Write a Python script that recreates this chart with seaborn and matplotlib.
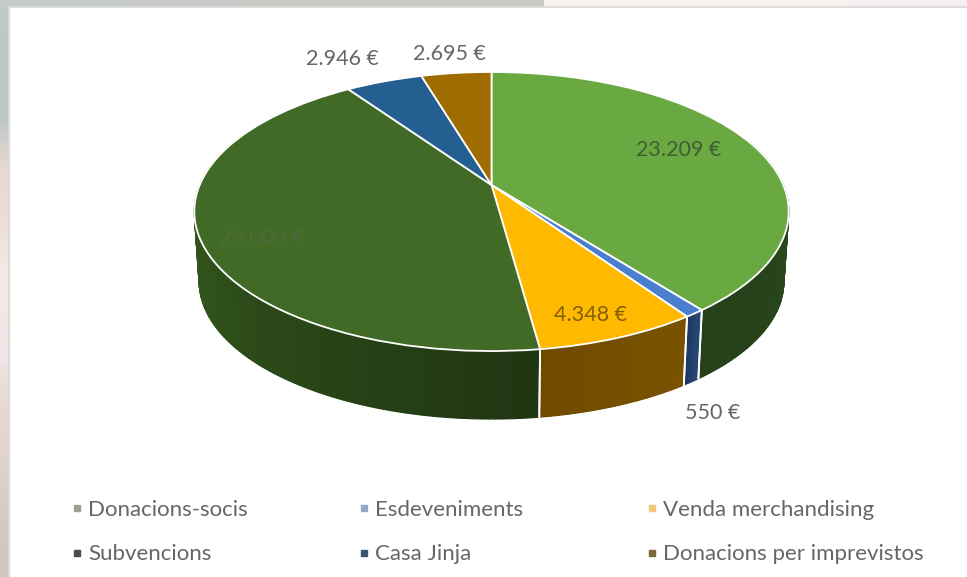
import numpy as np
import matplotlib
matplotlib.use("Agg")
import matplotlib.pyplot as plt
from matplotlib.colors import to_rgb
from matplotlib.transforms import Transform
import seaborn as sns

categories = ["Donacions-socis", "Esdeveniments", "Venda merchandising", "Subvencions", "Casa Jinja", "Donacions per imprevistos"]
values = [23209, 550, 4348, 25000, 2946, 2695]
value_labels = ["23.209 €", "550 €", "4.348 €", "25.000 €", "2.946 €", "2.695 €"]
top_colors = ["#6aa842", "#4a7fd0", "#ffb900", "#406a26", "#255e91", "#9e6c00"]
side_light = ["#2c4a1a", "#2a4a78", "#7a5300", "#3b6421", "#2a4a78", "#7a5300"]
side_dark = ["#26401a", "#1d3a63", "#704a00", "#1f3612", "#1d3a63", "#704a00"]
legend_colors = ["#9aa38f", "#8fa8c8", "#f5c77e", "#4a4f48", "#3d5470", "#7d6a3a"]

TEXT = "#666666"
KEEP_SIN = 0.35


class Persp(Transform):
    # flat circle to screen pixels, near side bigger than far side
    input_dims = 2
    output_dims = 2

    def __init__(self, cx, cy, a, b, k):
        super().__init__()
        self.cx, self.cy, self.a, self.b, self.k = cx, cy, a, b, k

    def transform_non_affine(self, pts):
        pts = np.asarray(pts, dtype=float)
        w = 1 + self.k * pts[:, 1]
        return np.column_stack([self.cx + self.a * pts[:, 0] / w, self.cy - self.b * pts[:, 1] / w])


top = Persp(491.5, 185, 291.8, 134.5, 0.19)
bottom = Persp(491.5, 255.4, 287, 132.5, 0.19)


def rim(tf, deg):
    r = np.radians(deg)
    return tf.transform_non_affine(np.column_stack([np.cos(r), np.sin(r)]))


sns.set_theme(style="white")
plt.rcParams["font.family"] = ["Lato", "DejaVu Sans"]

fig = plt.figure(figsize=(9.67, 5.77), dpi=100)
ax = fig.add_axes([0, 0, 1, 1])

wedges, _ = ax.pie(values, startangle=90, counterclock=False, colors=top_colors,
                   wedgeprops=dict(edgecolor="white", linewidth=1.3))
for w in wedges:
    w.set_transform(top + ax.transData)
    w.set_zorder(5)

# side of the cake, only the part that faces the viewer
for i, w in enumerate(wedges):
    lo, hi = w.theta1, w.theta2
    degs = np.append(np.arange(lo, hi, 1.0), hi)
    degs = degs[np.sin(np.radians(degs)) < KEEP_SIN]
    if len(degs) < 2:
        continue
    outline = np.vstack([rim(top, degs), rim(bottom, degs)[::-1]])
    shades = sns.blend_palette([side_light[i], side_dark[i]], len(degs) - 1)
    if i <= 2:
        shades = shades[::-1]
    ax.fill(outline[:, 0], outline[:, 1], color=shades[len(shades) // 2], lw=0, zorder=2)
    for j in range(len(degs) - 1):
        pair = degs[j:j + 2]
        poly = np.vstack([rim(top, pair), rim(bottom, pair)[::-1]])
        ax.fill(poly[:, 0], poly[:, 1], color=shades[j], lw=0.9, zorder=2)
    # white split lines on the side
    for edge in (lo, hi):
        if np.sin(np.radians(edge)) < 0:
            p = np.vstack([rim(top, [edge]), rim(bottom, [edge])])
            ax.plot(p[:, 0], p[:, 1], color="white", lw=1.3, zorder=3)

label_x = [679, 713, 591, 262, 342, 449]
label_y = [150, 413, 315, 238, 59, 54]
label_colors = ["#3f5f33", TEXT, "#7f6000", "#4c6a3a", TEXT, TEXT]
for lab, x, y, c in zip(value_labels, label_x, label_y, label_colors):
    ax.text(x, y, lab, color=c, fontsize=15.5, ha="center", va="center", zorder=6)

# legend laid out on the fixed excel grid
col_x = [77, 364, 652]
row_y = [508, 553]
for i, name in enumerate(categories):
    x, y = col_x[i % 3], row_y[i // 3]
    ax.plot([x], [y], marker="s", ms=5, color=legend_colors[i], ls="none", zorder=6)
    ax.text(x + 11, y + 1.5, name, color=TEXT, fontsize=16, ha="left", va="center", zorder=6)

# blurred page behind the white card
left_bg = ["#c0c8c8", "#bcc6c6", "#bfc7c6", "#e8d8cf", "#ecdcd4", "#f3e8e6", "#f3e8e6", "#f0e4e4", "#e6d8cf", "#e2d4ca", "#d8ccc4", "#cfc8c2"]
left_rgb = np.array([[to_rgb(c)] for c in left_bg])
ax.imshow(left_rgb, extent=(0, 8, 577, 0), aspect="auto", interpolation="bilinear", zorder=1)
top_bg = ["#c4cbcb", "#c5cbca", "#c6c9c7", "#c6c9c7", "#c8c8c5", "#c8c8c5", "#c8c8c5", "#c8c8c5", "#c8c8c5",
          "#f7f2f0", "#f7f2f0", "#f7f2f0", "#f7f2f0", "#f7f2f0", "#f5f1f0", "#f5f1f0"]
top_rgb = np.array([[to_rgb(c) for c in top_bg]])
ax.imshow(top_rgb, extent=(0, 967, 6, 0), aspect="auto", interpolation="nearest", zorder=1)
ax.plot([8.5, 8.5], [6, 577], color="#dcdcdc", lw=1.5, zorder=1)
ax.plot([8, 967], [6.5, 6.5], color="#d4d4d4", lw=1.2, zorder=1)

ax.set_xlim(0, 967)
ax.set_ylim(577, 0)
ax.set_aspect("auto")
ax.axis("off")
fig.savefig("out.png", dpi=100)
